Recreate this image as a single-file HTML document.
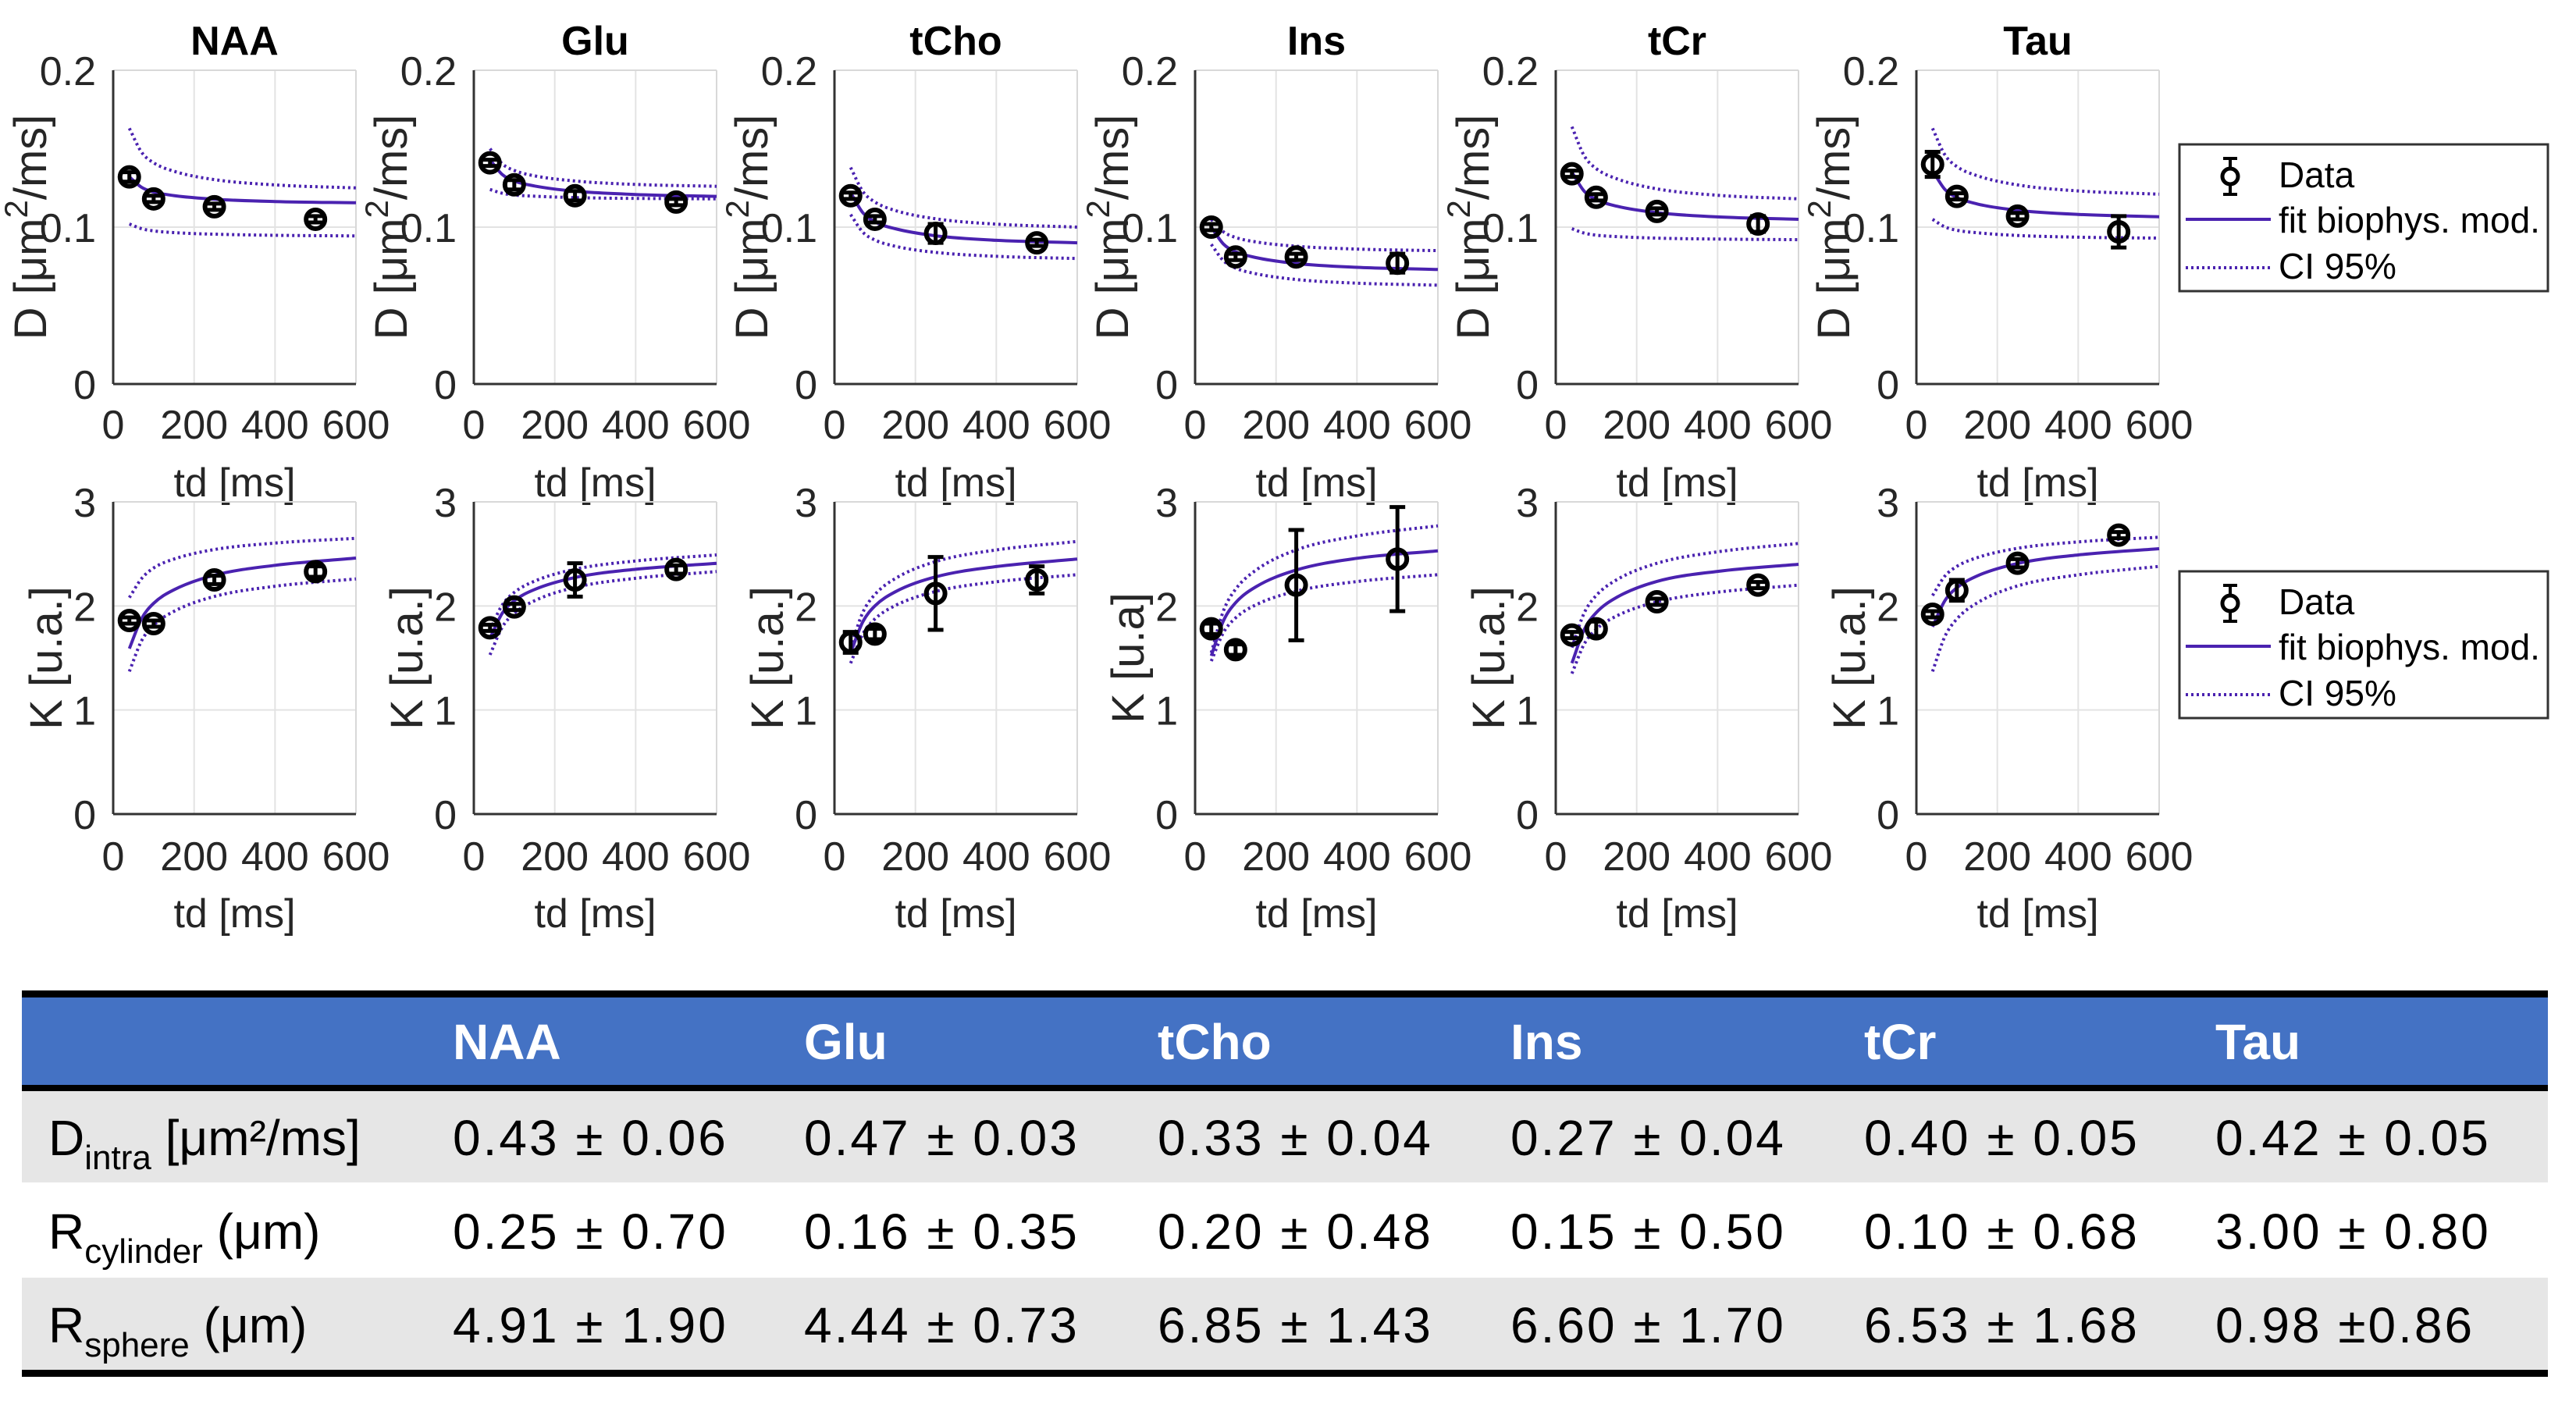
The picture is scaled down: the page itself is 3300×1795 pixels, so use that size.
<!DOCTYPE html>
<html><head><meta charset="utf-8">
<style>
html,body{margin:0;padding:0;background:#fff;}
body{width:3300px;height:1790px;overflow:hidden;position:relative;font-family:"Liberation Sans",Arial,sans-serif;}
svg text{font-family:"Liberation Sans",Arial,sans-serif;}
</style></head>
<body>
<svg id="fig" width="3300" height="1790" viewBox="0 0 3300 1790" xmlns="http://www.w3.org/2000/svg"></svg>
<script>
const metabolites=["NAA","Glu","tCho","Ins","tCr","Tau"];
const tdPoints=[40,100,250,500];
const tdGrid=[40,70,100,150,250,400,600];
const xTicks=[0,200,400,600];
const dTicks=["0","0.1","0.2"];
const dTickVals=[0,0.1,0.2];
const kTickVals=[0,1,2,3];
const kTicks=["0","1","2","3"];

const dData=[[.132,.118,.113,.105],[.141,.127,.120,.116],[.120,.105,.096,.090],[.100,.081,.081,.077],[.134,.119,.110,.102],[.140,.1196,.107,.097]];
const dErr=[[.003,.002,.002,.002],[.002,.003,.003,.002],[.002,.002,.006,.002],[.002,.002,.002,.006],[.002,.002,.002,.005],[.008,.002,.002,.01]];
const dFit=[[.132,.1254,.1224,.1201,.1178,.1163,.1155],[.143,.1336,.1294,.1262,.1229,.1208,.1196],[.122,.1092,.1034,.099,.0945,.0916,.090],[.100,.0892,.0843,.0806,.0768,.0744,.073],[.135,.123,.1176,.1134,.1092,.1065,.105],[.136,.1242,.1189,.1148,.1107,.1081,.1066]];
const dUpper=[[.163,.1478,.141,.1356,.1303,.1269,.125],[.150,.1404,.1361,.1327,.1294,.1272,.126],[.138,.1228,.116,.1106,.1053,.1019,.100],[.105,.097,.0934,.0906,.0878,.086,.085],[.164,.1456,.1373,.1309,.1244,.1203,.118],[.163,.1462,.1386,.1328,.1269,.1231,.121]];
const dLower=[[.102,.099,.0976,.0965,.0955,.0948,.0944],[.124,.1216,.1205,.1197,.1188,.1183,.118],[.108,.0968,.0918,.0878,.0839,.0814,.080],[.089,.0786,.0739,.0703,.0666,.0643,.063],[.099,.0962,.0949,.094,.093,.0924,.092],[.105,.1002,.098,.0964,.0947,.0936,.093]];

const kData=[[1.86,1.83,2.25,2.33],[1.79,1.99,2.25,2.35],[1.65,1.73,2.12,2.25],[1.78,1.58,2.2,2.45],[1.72,1.78,2.04,2.2],[1.92,2.15,2.41,2.68]];
const kErr=[[.03,.03,.04,.05],[.03,.03,.16,.04],[.1,.05,.35,.13],[.05,.05,.53,.5],[.03,.07,.03,.03],[.03,.1,.04,.03]];
const kFit=[[1.59,1.877,2.025,2.155,2.295,2.39,2.46],[1.69,1.928,2.05,2.158,2.273,2.352,2.41],[1.55,1.847,2.0,2.135,2.279,2.378,2.45],[1.52,1.857,2.03,2.183,2.345,2.458,2.53],[1.45,1.77,1.935,2.081,2.236,2.332,2.40],[1.8,2.048,2.175,2.288,2.408,2.49,2.55]];
const kUpper=[[2.08,2.262,2.365,2.45,2.542,2.604,2.65],[1.77,2.008,2.13,2.238,2.353,2.432,2.49],[1.6,1.937,2.11,2.263,2.426,2.538,2.62],[1.55,1.953,2.16,2.343,2.538,2.672,2.77],[1.6,1.93,2.1,2.25,2.41,2.52,2.6],[2.1,2.285,2.38,2.464,2.554,2.615,2.66]];
const kLower=[[1.37,1.664,1.815,1.948,2.091,2.189,2.26],[1.53,1.794,1.93,2.05,2.178,2.266,2.33],[1.45,1.731,1.875,2.003,2.139,2.232,2.3],[1.47,1.744,1.885,2.01,2.142,2.234,2.3],[1.35,1.631,1.775,1.903,2.039,2.132,2.2],[1.37,1.703,1.875,2.029,2.192,2.299,2.38]];

const tableCols=["NAA","Glu","tCho","Ins","tCr","Tau"];
const dIntra=["0.43 \u00b1 0.06","0.47 \u00b1 0.03","0.33 \u00b1 0.04","0.27 \u00b1 0.04","0.40 \u00b1 0.05","0.42 \u00b1 0.05"];
const rCyl=["0.25 \u00b1 0.70","0.16 \u00b1 0.35","0.20 \u00b1 0.48","0.15 \u00b1 0.50","0.10 \u00b1 0.68","3.00 \u00b1 0.80"];
const rSph=["4.91 \u00b1 1.90","4.44 \u00b1 0.73","6.85 \u00b1 1.43","6.60 \u00b1 1.70","6.53 \u00b1 1.68","0.98 \u00b10.86"];

const NS="http://www.w3.org/2000/svg";
const svg=document.getElementById('fig');
function el(tag,attrs,parent,text){const e=document.createElementNS(NS,tag);for(const k in attrs)e.setAttribute(k,attrs[k]);if(text!==undefined)e.textContent=text;(parent||svg).appendChild(e);return e;}
const PURPLE="#4a22b0";
const panelL=[145,607,1069,1531,1993,2455];
const PW=311;

function smoothPath(xs,ys){
  const n=xs.length,d=[],m=[];
  for(let i=0;i<n-1;i++)d.push((ys[i+1]-ys[i])/(xs[i+1]-xs[i]));
  m[0]=d[0];m[n-1]=d[n-2];
  for(let i=1;i<n-1;i++)m[i]=(d[i-1]*d[i]<=0)?0:(d[i-1]+d[i])/2;
  let p="M"+xs[0].toFixed(1)+","+ys[0].toFixed(1);
  for(let i=0;i<n-1;i++){const h=xs[i+1]-xs[i];
    p+=" C"+(xs[i]+h/3).toFixed(1)+","+(ys[i]+m[i]*h/3).toFixed(1)+" "+(xs[i+1]-h/3).toFixed(1)+","+(ys[i+1]-m[i+1]*h/3).toFixed(1)+" "+xs[i+1].toFixed(1)+","+ys[i+1].toFixed(1);}
  return p;
}

function panel(i,row){
  const L=panelL[i],R=L+PW;
  const top=row===0?90:643, bot=row===0?492:1043;
  const vmax=row===0?0.2:3;
  const x=t=>L+t/600*PW;
  const y=v=>bot-v/vmax*(bot-top);
  const g=el('g',{});
  
  
  const tv=row===0?dTickVals:kTickVals, tl=row===0?dTicks:kTicks;
  xTicks.forEach(t=>{if(t>0){const gl=el('line',{x1:x(t),x2:x(t),y1:top,y2:bot,stroke:'#e3e3e3','stroke-width':2},g);}});
  tv.forEach(v=>{if(v>0){const gl=el('line',{x1:L,x2:R,y1:y(v),y2:y(v),stroke:'#e3e3e3','stroke-width':2},g);}});
  el('line',{x1:L,x2:R,y1:top,y2:top,stroke:'#d8d8d8','stroke-width':2},g);
  el('line',{x1:R,x2:R,y1:top,y2:bot,stroke:'#d8d8d8','stroke-width':2},g);
  const ya=el('line',{x1:L,x2:L,y1:top,y2:bot,stroke:'#333','stroke-width':3},g);
  
  const xa=el('line',{x1:L,x2:R,y1:bot,y2:bot,stroke:'#333','stroke-width':3},g);
  
  xTicks.forEach(t=>{const tx=el('text',{x:x(t),y:(row===0?562:1115),'font-size':52,'text-anchor':'middle',fill:'#262626'},g,String(t));});
  tv.forEach((v,j)=>{const tx=el('text',{x:L-22,y:y(v)+19,'font-size':52,'text-anchor':'end',fill:'#262626'},g,tl[j]);});
  const xl=el('text',{x:L+PW/2,y:(row===0,row===0?636:1188),'font-size':52,'text-anchor':'middle',fill:'#262626'},g,'td [ms]');
  
  if(row===0){
    const yl=el('text',{transform:`translate(${L-86},${(top+bot)/2}) rotate(-90)`,'font-size':58,'text-anchor':'middle',fill:'#262626'},g);
    
    el('tspan',{},yl,'D [\u03bcm');
    el('tspan',{dy:-24,'font-size':42},yl,'2');
    el('tspan',{dy:24},yl,'/ms]');
    const tt=el('text',{x:L+PW/2,y:70,'font-size':52,'font-weight':'bold','text-anchor':'middle',fill:'#000'},g,metabolites[i]);
    
  } else {
    const yl=el('text',{transform:`translate(${L-66},${(top+bot)/2}) rotate(-90)`,'font-size':58,'text-anchor':'middle',fill:'#262626'},g,i===3?'K [u.a]':'K [u.a.]');
    
  }
  const fit=row===0?dFit[i]:kFit[i], up=row===0?dUpper[i]:kUpper[i], lo=row===0?dLower[i]:kLower[i];
  const xs=tdGrid.map(x);
  const pu=el('path',{d:smoothPath(xs,up.map(y)),fill:'none',stroke:PURPLE,'stroke-width':4,'stroke-dasharray':'3 4'},g);
  
  const pl=el('path',{d:smoothPath(xs,lo.map(y)),fill:'none',stroke:PURPLE,'stroke-width':4,'stroke-dasharray':'3 4'},g);
  
  const pf=el('path',{d:smoothPath(xs,fit.map(y)),fill:'none',stroke:PURPLE,'stroke-width':4},g);
  
  const data=row===0?dData[i]:kData[i], err=row===0?dErr[i]:kErr[i];
  tdPoints.forEach((t,j)=>{
    const cx=x(t),cy=y(data[j]),y1=y(data[j]+err[j]),y2=y(data[j]-err[j]);
    const eb=el('path',{d:`M${cx},${y1}V${y2}M${cx-10},${y1}H${cx+10}M${cx-10},${y2}H${cx+10}`,stroke:'#000','stroke-width':5,fill:'none'},g);
    
    const c=el('circle',{cx:cx,cy:cy,r:12,fill:'none',stroke:'#000','stroke-width':6},g);
    
  });
}
for(let r=0;r<2;r++)for(let i=0;i<6;i++)panel(i,r);

function legend(top){
  const g=el('g',{});
  
  el('rect',{x:2792,y:top,width:472,height:188,fill:'#fff',stroke:'#333','stroke-width':3},g);
  const cx=2857;
  el('path',{d:`M${cx},${top+18}V${top+64}M${cx-9},${top+18}H${cx+9}M${cx-9},${top+64}H${cx+9}`,stroke:'#000','stroke-width':4},g);
  el('circle',{cx:cx,cy:top+41,r:10,fill:'#fff',stroke:'#000','stroke-width':5},g);
  el('line',{x1:2800,x2:2909,y1:top+96,y2:top+96,stroke:PURPLE,'stroke-width':4},g);
  el('line',{x1:2800,x2:2909,y1:top+158,y2:top+158,stroke:PURPLE,'stroke-width':4,'stroke-dasharray':'3 4'},g);
  const t1=el('text',{x:2919,y:top+55,'font-size':46,fill:'#000'},g,'Data');
  const t2=el('text',{x:2919,y:top+113,'font-size':46,fill:'#000'},g,'fit biophys. mod.');
  const t3=el('text',{x:2919,y:top+172,'font-size':46,fill:'#000'},g,'CI 95%');
}
legend(185);legend(732);

const colX=[580,1030,1483,1935,2388,2838];
const tb=el('g',{});

el('rect',{x:28,y:1278,width:3236,height:112,fill:'#4472c4'},tb);
el('rect',{x:28,y:1398,width:3236,height:117,fill:'#e6e6e6'},tb);
el('rect',{x:28,y:1637,width:3236,height:118,fill:'#e6e6e6'},tb);
el('rect',{x:28,y:1269,width:3236,height:9,fill:'#000'},tb);
el('rect',{x:28,y:1390,width:3236,height:8,fill:'#000'},tb);
el('rect',{x:28,y:1755,width:3236,height:9,fill:'#000'},tb);
tableCols.forEach((c,j)=>{const t=el('text',{x:colX[j],y:1357,'font-size':64,'font-weight':'bold',fill:'#fff'},tb,c);});
function rowLabel(y,main,sub,rest,name){
  const t=el('text',{x:62,y:y,'font-size':64,fill:'#000'},tb);
  
  el('tspan',{},t,main);
  el('tspan',{dy:18,'font-size':44},t,sub);
  el('tspan',{dy:-18},t,rest);
}
rowLabel(1480,'D','intra',' [\u03bcm\u00b2/ms]','row-label-d-intra');
rowLabel(1600,'R','cylinder',' (\u03bcm)','row-label-r-cylinder');
rowLabel(1720,'R','sphere',' (\u03bcm)','row-label-r-sphere');
[[dIntra,1480],[rCyl,1600],[rSph,1720]].forEach(([arr,yy])=>{
  arr.forEach((v,j)=>{const t=el('text',{x:colX[j],y:yy,'font-size':64,fill:'#000','letter-spacing':3},tb,v);});
});
</script>
</body></html>
